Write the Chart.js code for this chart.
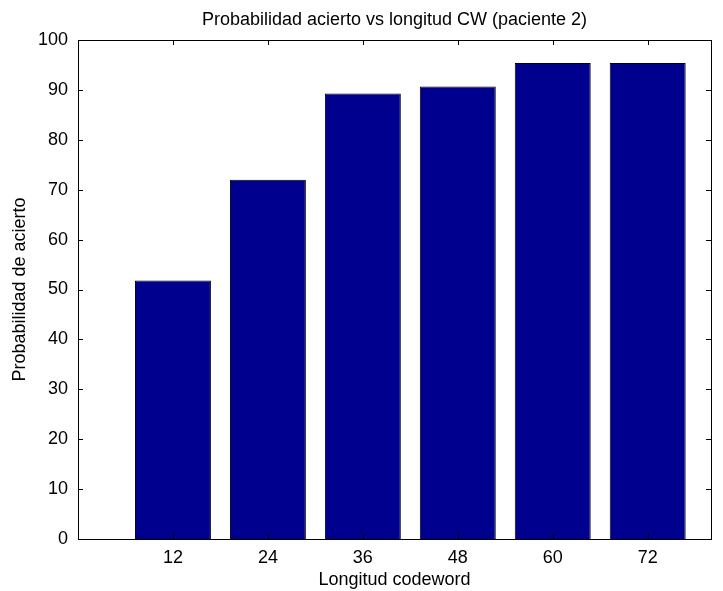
<!DOCTYPE html>
<html>
<head>
<meta charset="utf-8">
<script src="https://cdn.jsdelivr.net/npm/chart.js@4/dist/chart.umd.min.js"></script>
<style>
  body { margin: 0; background: #fff; }
  canvas { display: block; }
</style>
</head>
<body>
<canvas id="barChart" width="723" height="591"></canvas>
<script>
const codewordLengths = [12, 24, 36, 48, 60, 72];
const hitProbability = [51.8, 72.0, 89.3, 90.7, 95.4, 95.4];
const xTicks = [12, 24, 36, 48, 60, 72];
const yTicks = [0, 10, 20, 30, 40, 50, 60, 70, 80, 90, 100];

const FONT = 'Liberation Sans, Arial, Helvetica, sans-serif';

// matlab style: ticks inside the box, box closed on all sides
const boxTicks = {
  id: 'boxTicks',
  afterDatasetsDraw(chart) {
    const { ctx, chartArea: a, scales } = chart;
    const len = 5;
    ctx.save();
    ctx.strokeStyle = '#000';
    ctx.lineWidth = 1;
    ctx.beginPath();
    yTicks.forEach(v => {
      const y = Math.round(scales.y.getPixelForValue(v)) + 0.5;
      ctx.moveTo(a.left, y); ctx.lineTo(a.left + len, y);
      ctx.moveTo(a.right, y); ctx.lineTo(a.right - len, y);
    });
    xTicks.forEach(v => {
      const x = Math.round(scales.x.getPixelForValue(v)) + 0.5;
      ctx.moveTo(x, a.bottom); ctx.lineTo(x, a.bottom - len);
      ctx.moveTo(x, a.top); ctx.lineTo(x, a.top + len);
    });
    ctx.stroke();
    ctx.strokeRect(Math.round(a.left) + 0.5, Math.round(a.top) + 0.5,
      Math.round(a.right - a.left), Math.round(a.bottom - a.top));
    ctx.restore();
  }
};

new Chart(document.getElementById('barChart'), {
  type: 'bar',
  data: {
    datasets: [{
      data: codewordLengths.map((x, i) => ({ x: x, y: hitProbability[i] })),
      backgroundColor: '#00008f',
      borderColor: '#000',
      borderWidth: 1,
      barPercentage: 0.8,
      categoryPercentage: 1
    }]
  },
  options: {
    responsive: false,
    animation: false,
    layout: { padding: { top: 0, right: 12, bottom: 0, left: 0 } },
    plugins: {
      legend: { display: false },
      tooltip: { enabled: false },
      title: {
        display: true,
        fullSize: false,
        text: 'Probabilidad acierto vs longitud CW (paciente 2)',
        color: '#000',
        font: { family: FONT, size: 18, weight: 'normal' },
        padding: { top: 9.2, bottom: 9.2 }
      }
    },
    scales: {
      x: {
        type: 'linear',
        min: 0,
        max: 80,
        offset: false,
        grid: { display: false, drawTicks: false },
        border: { display: false },
        afterBuildTicks: axis => { axis.ticks = xTicks.map(v => ({ value: v })); },
        afterFit: s => { s.height = 52; },
        ticks: {
          color: '#000',
          padding: 8,
          font: { family: FONT, size: 18 }
        },
        title: {
          display: true,
          text: 'Longitud codeword',
          color: '#000',
          font: { family: FONT, size: 18 },
          padding: { top: 0, bottom: 0 }
        }
      },
      y: {
        min: 0,
        max: 100,
        grid: { display: false, drawTicks: false },
        border: { display: false },
        afterBuildTicks: axis => { axis.ticks = yTicks.map(v => ({ value: v })); },
        afterFit: s => { s.width = 78; },
        ticks: {
          color: '#000',
          padding: 10,
          font: { family: FONT, size: 18 }
        },
        title: {
          display: true,
          text: 'Probabilidad de acierto',
          color: '#000',
          font: { family: FONT, size: 18 },
          padding: { top: 9, bottom: 0 }
        }
      }
    }
  },
  plugins: [boxTicks]
});
</script>
</body>
</html>
